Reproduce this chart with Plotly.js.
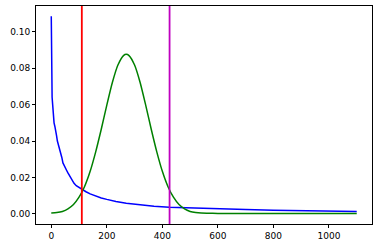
<!DOCTYPE html>
<html>
<head>
<meta charset="utf-8">
<script src="https://cdn.plot.ly/plotly-3.0.1.min.js"></script>
<style>
html,body{margin:0;padding:0;background:#fff;}
#chart{width:378px;height:248px;}
</style>
</head>
<body>
<div id="chart"></div>
<script>
// Blue decaying curve
const blueX = [0, 1, 2, 3, 5, 7, 10, 13, 16, 19, 22, 26, 30, 34, 38, 42, 46, 50, 55, 60, 65, 70, 76, 82, 90, 100, 112, 125, 140, 160, 180, 200, 233, 270, 320, 370, 425, 480, 540, 600, 700, 800, 900, 1000, 1100];
const blueY = [0.1085, 0.085, 0.072, 0.064, 0.060, 0.055, 0.050, 0.048, 0.046, 0.043, 0.040, 0.038, 0.036, 0.033, 0.031, 0.028, 0.027, 0.026, 0.024, 0.0225, 0.021, 0.0195, 0.018, 0.0168, 0.0155, 0.0145, 0.0135, 0.0122, 0.0110, 0.0097, 0.0088, 0.0080, 0.0068, 0.0059, 0.0049, 0.0043, 0.0037, 0.0034, 0.0031, 0.0027, 0.0024, 0.0021, 0.0018, 0.0016, 0.0013];

// Green bell curve
const greenX = [0, 20, 40, 60, 80, 100, 120, 140, 160, 180, 200, 220, 240, 260, 270, 280, 300, 320, 340, 360, 380, 400, 420, 440, 460, 480, 500, 520, 540, 560, 600, 700, 800, 900, 1000, 1100];
const greenY = [0.0006, 0.0008, 0.0014, 0.0028, 0.0052, 0.0092, 0.0151, 0.0234, 0.0341, 0.0465, 0.0597, 0.0721, 0.0817, 0.0869, 0.0876, 0.0869, 0.0817, 0.0721, 0.0597, 0.0465, 0.0341, 0.0234, 0.0151, 0.0092, 0.0052, 0.0028, 0.0014, 0.0008, 0.0005, 0.0004, 0.0003, 0.0003, 0.0003, 0.0003, 0.0003, 0.0003];

// Vertical reference lines
const vlineX = [110, 426];
const vlineColors = ['#ff0000', '#bf00bf'];

const xTicks = [0, 200, 400, 600, 800, 1000];
const yTicks = [0.00, 0.02, 0.04, 0.06, 0.08, 0.10];

const traces = [
  {x: blueX, y: blueY, mode: 'lines', line: {color: '#0000ff', width: 1.5}, hoverinfo: 'skip'},
  {x: greenX, y: greenY, mode: 'lines', line: {color: '#008000', width: 1.5, shape: 'spline', smoothing: 0.6}, hoverinfo: 'skip'}
];

const shapes = vlineX.map((v, i) => ({
  type: 'line', xref: 'x', yref: 'paper', x0: v, x1: v, y0: 0, y1: 1,
  line: {color: vlineColors[i], width: 1.8}
}));

const axisCommon = {
  showgrid: false, zeroline: false, showline: true, mirror: true,
  linecolor: '#000', linewidth: 1, ticks: 'outside', ticklen: 3, tickwidth: 1,
  tickcolor: '#000', tickfont: {family: 'DejaVu Sans', size: 9, color: '#000'}
};

const layout = {
  width: 378, height: 248,
  margin: {l: 36, r: 6, t: 6, b: 24},
  paper_bgcolor: '#fff', plot_bgcolor: '#fff',
  showlegend: false,
  shapes: shapes,
  xaxis: Object.assign({}, axisCommon, {range: [-55, 1155], tickvals: xTicks, ticktext: xTicks.map(String)}),
  yaxis: Object.assign({}, axisCommon, {range: [-0.0055, 0.1141], tickvals: yTicks, ticktext: yTicks.map(v => v.toFixed(2))})
};

Plotly.newPlot('chart', traces, layout, {staticPlot: true, displayModeBar: false});
</script>
</body>
</html>
